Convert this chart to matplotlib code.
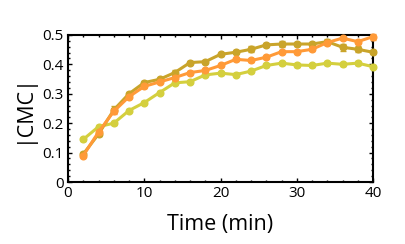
"""
|CMC| vs time, three conditions
"""
import matplotlib
matplotlib.use('Agg')
import matplotlib.pyplot as plt
from matplotlib.ticker import MultipleLocator

# data
time_min = [2, 4, 6, 8, 10, 12, 14, 16, 18, 20, 22, 24, 26, 28, 30, 32, 34, 36, 38, 40]

cmc_gold = [0.095, 0.163, 0.245, 0.300, 0.338, 0.349, 0.372, 0.406, 0.409, 0.434,
            0.441, 0.451, 0.466, 0.469, 0.469, 0.469, 0.477, 0.458, 0.451, 0.441]
err_gold = [0.006, 0.006, 0.012, 0.006, 0.006, 0.006, 0.010, 0.006, 0.006, 0.006,
            0.006, 0.010, 0.006, 0.010, 0.006, 0.006, 0.010, 0.012, 0.010, 0.006]

cmc_orange = [0.090, 0.170, 0.240, 0.290, 0.325, 0.340, 0.355, 0.372, 0.379, 0.396,
              0.417, 0.413, 0.424, 0.443, 0.443, 0.451, 0.474, 0.489, 0.477, 0.494]
err_orange = [0.005, 0.005, 0.008, 0.005, 0.005, 0.005, 0.005, 0.005, 0.005, 0.005,
              0.005, 0.005, 0.005, 0.005, 0.005, 0.005, 0.005, 0.005, 0.005, 0.010]

cmc_yellow = [0.145, 0.188, 0.200, 0.243, 0.270, 0.304, 0.337, 0.341, 0.364, 0.370,
              0.365, 0.377, 0.396, 0.404, 0.398, 0.396, 0.404, 0.400, 0.404, 0.392]
err_yellow = [0.006, 0.005, 0.005, 0.005, 0.005, 0.005, 0.005, 0.005, 0.005, 0.005,
              0.005, 0.005, 0.005, 0.005, 0.006, 0.005, 0.005, 0.005, 0.008, 0.005]

plt.rcParams['font.family'] = ['Open Sans', 'DejaVu Sans']

fig = plt.figure(figsize=(4.05, 2.44), dpi=100, facecolor='white')
ax = fig.add_axes([0.168, 0.254, 0.753, 0.603])

series = [
    (cmc_yellow, err_yellow, '#D4CF3E'),
    (cmc_gold, err_gold, '#C9A42A'),
    (cmc_orange, err_orange, '#FF9A38'),
]
for vals, errs, col in series:
    ax.errorbar(time_min, vals, yerr=errs, color=col, linewidth=2.2,
                marker='o', markersize=4.8, capsize=2, elinewidth=1.0,
                capthick=1.0, clip_on=False, zorder=3)

ax.set_xlim(0, 40)
ax.set_ylim(0, 0.5)
ax.xaxis.set_major_locator(MultipleLocator(10))
ax.xaxis.set_minor_locator(MultipleLocator(2))
ax.yaxis.set_minor_locator(MultipleLocator(0.02))
ax.set_yticks([0, 0.1, 0.2, 0.3, 0.4, 0.5])
ax.set_yticklabels(['0', '0.1', '0.2', '0.3', '0.4', '0.5'])

ax.tick_params(which='both', direction='in', top=True, right=True,
               labelsize=11, pad=3, width=1.0)
ax.tick_params(which='major', length=3)
ax.tick_params(which='minor', length=1.5)
for sp in ax.spines.values():
    sp.set_linewidth(1.5)

ax.set_xlabel('Time (min)', fontsize=15.5, labelpad=9)
ax.set_ylabel('|CMC|', fontsize=15.5, labelpad=6)

fig.savefig('out.png', dpi=100, facecolor='white')
